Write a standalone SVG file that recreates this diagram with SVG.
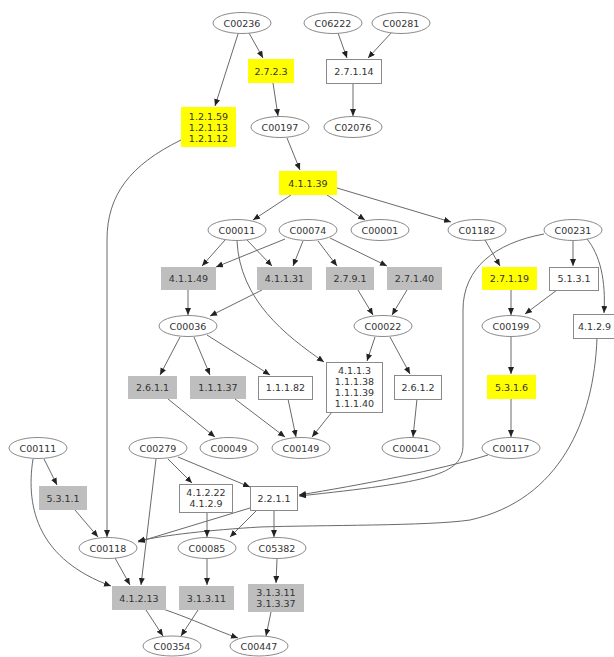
<svg xmlns="http://www.w3.org/2000/svg" width="614" height="657" viewBox="0 0 614 657">
<style>
text{font-family:"DejaVu Sans","Liberation Sans",sans-serif;font-size:9.5px;fill:#333;text-anchor:middle}
ellipse{fill:#fff;stroke:#8a8a8a;stroke-width:1}
.w{fill:#fff;stroke:#8a8a8a;stroke-width:1}
.y{fill:#ffff00;stroke:none}
.g{fill:#bebebe;stroke:none}
#edges path{fill:none;stroke:#6a6a6a;stroke-width:1;marker-end:url(#a)}
</style>
<defs>
<marker id="a" markerUnits="userSpaceOnUse" markerWidth="8" markerHeight="7" refX="7" refY="3" orient="auto"><path d="M0,0 L7,3 L0,6 z" fill="#222"/></marker>
</defs>
<rect width="614" height="657" fill="#fff"/>
<g id="edges">
<path d="M238,34 L215,106"/>
<path d="M249,33 L263,58"/>
<path d="M338,33 L347,58"/>
<path d="M392,32 L368,58"/>
<path d="M273,83 L278,116"/>
<path d="M353,83 L353,116"/>
<path d="M287,138 L300,170"/>
<path d="M181,140 C130,165 107,195 107,240 L107,537"/>
<path d="M291,195 L253,220"/>
<path d="M327,195 L365,220"/>
<path d="M337,188 L451,222"/>
<path d="M225,240 L202,266"/>
<path d="M285,239 L216,267"/>
<path d="M247,240 L272,266"/>
<path d="M303,241 L293,266"/>
<path d="M318,241 L337,266"/>
<path d="M330,238 L387,266"/>
<path d="M237,241 C240,300 285,335 324,362"/>
<path d="M262,290 L210,316"/>
<path d="M188,290 L188,315"/>
<path d="M358,290 L373,315"/>
<path d="M407,290 L392,315"/>
<path d="M485,240 L500,266"/>
<path d="M573,241 L573,266"/>
<path d="M587,239 C600,255 606,280 604,313"/>
<path d="M511,290 L511,315"/>
<path d="M557,290 L525,314"/>
<path d="M544,234 C495,243 463,268 463,310 L463,445 C463,475 430,482 299,496"/>
<path d="M488,455 C440,470 360,485 299,495"/>
<path d="M597,338 C594,420 560,500 470,520 C430,526 320,525 260,527 C210,530 165,535 138,541"/>
<path d="M375,337 L367,361"/>
<path d="M390,337 L410,374"/>
<path d="M417,399 L413,437"/>
<path d="M332,412 L312,437"/>
<path d="M288,399 L296,437"/>
<path d="M235,399 L285,437"/>
<path d="M168,399 L215,437"/>
<path d="M180,337 L160,375"/>
<path d="M194,337 L210,375"/>
<path d="M207,335 L270,375"/>
<path d="M511,337 L511,374"/>
<path d="M511,399 L511,437"/>
<path d="M168,459 L192,483"/>
<path d="M178,457 L250,487"/>
<path d="M156,459 L141,585"/>
<path d="M44,459 L57,485"/>
<path d="M33,459 C25,510 40,560 111,586"/>
<path d="M75,510 L98,537"/>
<path d="M250,508 L138,542"/>
<path d="M257,510 L230,537"/>
<path d="M207,512 L207,537"/>
<path d="M274,510 L274,537"/>
<path d="M115,558 L130,585"/>
<path d="M207,559 L207,585"/>
<path d="M277,559 L276,583"/>
<path d="M146,610 L163,636"/>
<path d="M198,610 L181,636"/>
<path d="M163,609 C195,620 215,630 238,638"/>
<path d="M271,612 L266,636"/>
</g>
<g id="C00236"><ellipse cx="242" cy="23" rx="29" ry="10.5"/><text x="242" y="26.5">C00236</text></g>
<g id="C06222"><ellipse cx="333" cy="23" rx="29" ry="10.5"/><text x="333" y="26.5">C06222</text></g>
<g id="C00281"><ellipse cx="401" cy="23" rx="29" ry="10.5"/><text x="401" y="26.5">C00281</text></g>
<g id="C00197"><ellipse cx="280" cy="127" rx="29" ry="10.5"/><text x="280" y="130.5">C00197</text></g>
<g id="C02076"><ellipse cx="353" cy="127" rx="29" ry="10.5"/><text x="353" y="130.5">C02076</text></g>
<g id="C00011"><ellipse cx="237" cy="230" rx="29" ry="10.5"/><text x="237" y="233.5">C00011</text></g>
<g id="C00074"><ellipse cx="308" cy="230" rx="29" ry="10.5"/><text x="308" y="233.5">C00074</text></g>
<g id="C00001"><ellipse cx="380" cy="230" rx="29" ry="10.5"/><text x="380" y="233.5">C00001</text></g>
<g id="C01182"><ellipse cx="477" cy="230" rx="29" ry="10.5"/><text x="477" y="233.5">C01182</text></g>
<g id="C00231"><ellipse cx="573" cy="230" rx="29" ry="10.5"/><text x="573" y="233.5">C00231</text></g>
<g id="C00036"><ellipse cx="188" cy="326" rx="29" ry="10.5"/><text x="188" y="329.5">C00036</text></g>
<g id="C00022"><ellipse cx="383" cy="326" rx="29" ry="10.5"/><text x="383" y="329.5">C00022</text></g>
<g id="C00199"><ellipse cx="511" cy="326" rx="29" ry="10.5"/><text x="511" y="329.5">C00199</text></g>
<g id="C00049"><ellipse cx="229" cy="448" rx="29" ry="10.5"/><text x="229" y="451.5">C00049</text></g>
<g id="C00149"><ellipse cx="301" cy="448" rx="29" ry="10.5"/><text x="301" y="451.5">C00149</text></g>
<g id="C00279"><ellipse cx="158" cy="448" rx="29" ry="10.5"/><text x="158" y="451.5">C00279</text></g>
<g id="C00041"><ellipse cx="411" cy="448" rx="29" ry="10.5"/><text x="411" y="451.5">C00041</text></g>
<g id="C00117"><ellipse cx="511" cy="448" rx="29" ry="10.5"/><text x="511" y="451.5">C00117</text></g>
<g id="C00111"><ellipse cx="38" cy="448" rx="29" ry="10.5"/><text x="38" y="451.5">C00111</text></g>
<g id="C00118"><ellipse cx="108" cy="548" rx="29" ry="10.5"/><text x="108" y="551.5">C00118</text></g>
<g id="C00085"><ellipse cx="207" cy="548" rx="29" ry="10.5"/><text x="207" y="551.5">C00085</text></g>
<g id="C05382"><ellipse cx="277" cy="548" rx="29" ry="10.5"/><text x="277" y="551.5">C05382</text></g>
<g id="C00354"><ellipse cx="172" cy="646" rx="29" ry="10"/><text x="172" y="649.5">C00354</text></g>
<g id="C00447"><ellipse cx="259" cy="646" rx="29" ry="10"/><text x="259" y="649.5">C00447</text></g>
<g id="ec2.7.2.3"><rect class="y" x="248" y="59" width="46" height="24"/><text x="271" y="74.5">2.7.2.3</text></g>
<g id="ec2.7.1.14"><rect class="w" x="326.5" y="59.5" width="55" height="24"/><text x="354" y="74.5">2.7.1.14</text></g>
<g id="ec1.2.1.59"><rect class="y" x="181" y="107" width="55" height="40"/><text x="208.5" y="119.5">1.2.1.59</text><text x="208.5" y="130.5">1.2.1.13</text><text x="208.5" y="141.5">1.2.1.12</text></g>
<g id="ec4.1.1.39"><rect class="y" x="279" y="171" width="58" height="24"/><text x="308" y="186.5">4.1.1.39</text></g>
<g id="ec4.1.1.49"><rect class="g" x="161" y="267" width="55" height="23"/><text x="188.5" y="282">4.1.1.49</text></g>
<g id="ec4.1.1.31"><rect class="g" x="257" y="267" width="55" height="23"/><text x="284.5" y="282">4.1.1.31</text></g>
<g id="ec2.7.9.1"><rect class="g" x="326" y="267" width="48" height="23"/><text x="350" y="282">2.7.9.1</text></g>
<g id="ec2.7.1.40"><rect class="g" x="387" y="267" width="55" height="23"/><text x="414.5" y="282">2.7.1.40</text></g>
<g id="ec2.7.1.19"><rect class="y" x="482" y="267" width="55" height="23"/><text x="509.5" y="282">2.7.1.19</text></g>
<g id="ec5.1.3.1"><rect class="w" x="549.5" y="267.5" width="49" height="23"/><text x="574" y="282">5.1.3.1</text></g>
<g id="ec4.1.2.9"><rect class="w" x="573.5" y="314.5" width="52" height="24"/><text x="594.5" y="330">4.1.2.9</text></g>
<g id="ec2.6.1.1"><rect class="g" x="128" y="376" width="49" height="23"/><text x="152.5" y="391">2.6.1.1</text></g>
<g id="ec1.1.1.37"><rect class="g" x="190" y="376" width="56" height="23"/><text x="218" y="391">1.1.1.37</text></g>
<g id="ec1.1.1.82"><rect class="w" x="258.5" y="376.5" width="54" height="23"/><text x="285.5" y="391">1.1.1.82</text></g>
<g id="ec4.1.1.3"><rect class="w" x="326.5" y="362.5" width="56" height="50"/><text x="354.5" y="374">4.1.1.3</text><text x="354.5" y="385">1.1.1.38</text><text x="354.5" y="396">1.1.1.39</text><text x="354.5" y="407">1.1.1.40</text></g>
<g id="ec2.6.1.2"><rect class="w" x="394.5" y="375.5" width="47" height="24"/><text x="418" y="391">2.6.1.2</text></g>
<g id="ec5.3.1.6"><rect class="y" x="487" y="375" width="49" height="24"/><text x="511.5" y="390.5">5.3.1.6</text></g>
<g id="ec5.3.1.1"><rect class="g" x="39" y="486" width="48" height="24"/><text x="63" y="501.5">5.3.1.1</text></g>
<g id="ec4.1.2.22"><rect class="w" x="179.5" y="484.5" width="53" height="28"/><text x="206" y="496">4.1.2.22</text><text x="206" y="507">4.1.2.9</text></g>
<g id="ec2.2.1.1"><rect class="w" x="250.5" y="486.5" width="47" height="24"/><text x="274" y="502">2.2.1.1</text></g>
<g id="ec4.1.2.13"><rect class="g" x="112" y="586" width="54" height="24"/><text x="139" y="601.5">4.1.2.13</text></g>
<g id="ec3.1.3.11"><rect class="g" x="179" y="586" width="55" height="24"/><text x="206.5" y="601.5">3.1.3.11</text></g>
<g id="ec3.1.3.11_37"><rect class="g" x="248" y="584" width="56" height="28"/><text x="276" y="596">3.1.3.11</text><text x="276" y="607">3.1.3.37</text></g>
</svg>
